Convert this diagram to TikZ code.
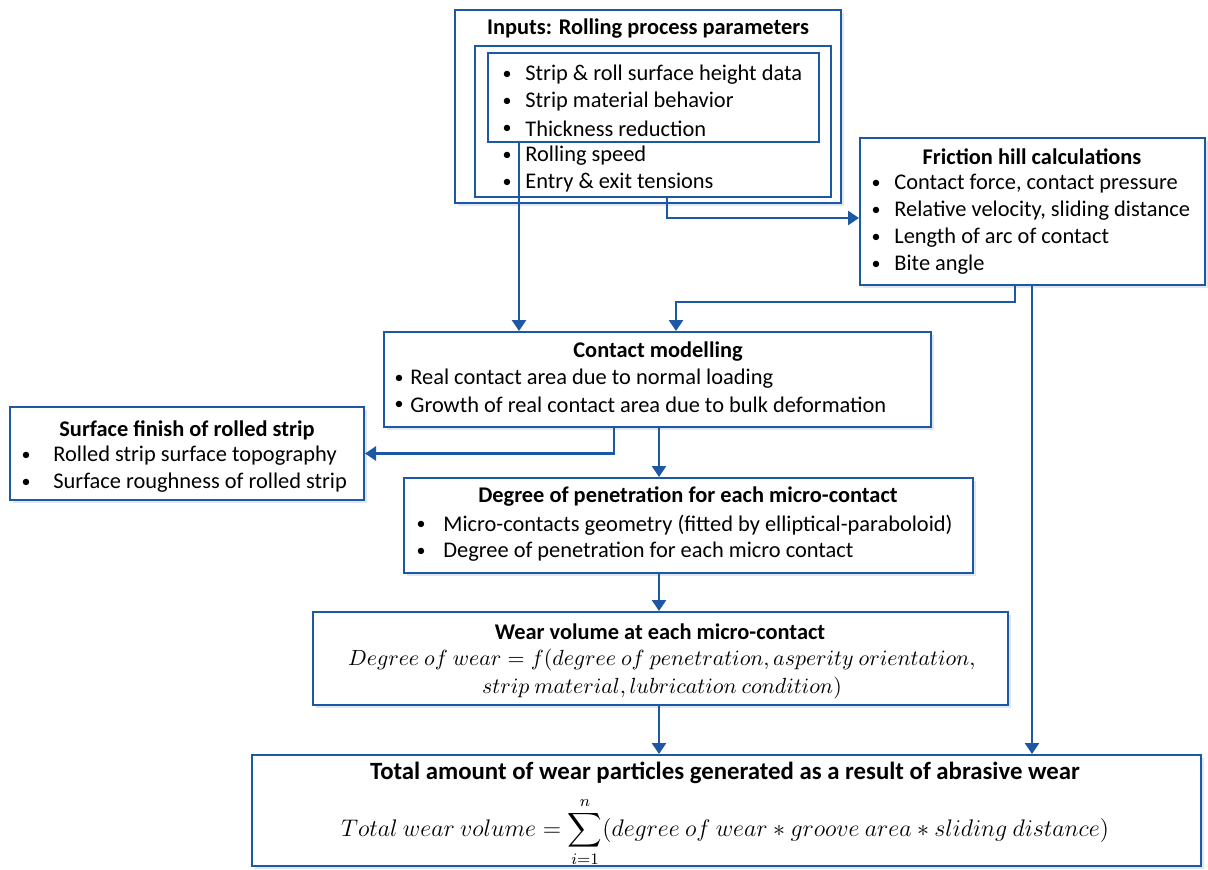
\documentclass[tikz,border=0pt]{standalone}
\usepackage{amsmath}
\usepackage{fontspec}
\setmainfont{Carlito}
\usetikzlibrary{fit,shadows,arrows.meta}

\definecolor{flowblue}{RGB}{28,88,166}

\tikzset{
  frame/.style={draw=flowblue, line width=1pt, inner sep=0pt},
  box/.style={frame, fill=white,
    drop shadow={shadow xshift=1.5pt, shadow yshift=-1.5pt, opacity=0.3, fill=flowblue!50}},
  head/.style={font=\bfseries, inner sep=0pt},
  dot/.style={inner sep=0pt, font=\small},
  item/.style={anchor=west, inner sep=0pt},
  eqn/.style={inner sep=0pt},
  flow/.style={draw=flowblue, line width=1.3pt, -{Triangle[length=5.5pt,width=7pt]}},
}

\begin{document}
\fontsize{11.2}{14}\selectfont
\begin{tikzpicture}[x=0.5pt, y=-0.5pt]
\useasboundingbox (0,0) rectangle (1208,869);

% boxes
\node[box, fit={(455,10) (841,203)}] (inputs) {};
\node[frame, fit={(475,46) (831,197)}] (inmid) {};
\node[frame, fit={(488,53) (819,142)}] (ininner) {};
\node[box, fit={(860,138) (1205,285)}] (fric) {};
\node[box, fit={(384,332) (931,427)}] (contact) {};
\node[box, fit={(10,407) (364,500)}] (surf) {};
\node[box, fit={(404,478) (973,573)}] (degree) {};
\node[box, fit={(313,612) (1008,705)}] (wear) {};
\node[box, fit={(252,755) (1201,866)}] (total) {};

% inputs
\node[head] (inputs-t) at (648,29) {Inputs: Rolling process parameters};
\foreach \t [count=\i] in {Strip \& roll surface height data, Strip material behavior,
    Thickness reduction, Rolling speed, Entry \& exit tensions}{
    \pgfmathsetmacro{\y}{75+27*(\i-1)}
    \node[dot] (inputs-b\i) at (507,\y) {\textbullet};
    \node[item] (inputs-i\i) at (525,\y) {\t};
}

% friction hill
\node[head] (fric-t) at (1032,157) {Friction hill calculations};
\foreach \t [count=\i] in {{Contact force, contact pressure}, {Relative velocity, sliding distance},
    Length of arc of contact, Bite angle}{
    \pgfmathsetmacro{\y}{184+27*(\i-1)}
    \node[dot] (fric-b\i) at (876,\y) {\textbullet};
    \node[item] (fric-i\i) at (894,\y) {\t};
}

% contact modelling
\node[head] (contact-t) at (658,352) {Contact modelling};
\foreach \t [count=\i] in {Real contact area due to normal loading,
    Growth of real contact area due to bulk deformation}{
    \pgfmathsetmacro{\y}{379+26*(\i-1)}
    \node[dot] (contact-b\i) at (399,\y) {\textbullet};
    \node[item] (contact-i\i) at (410,\y) {\t};
}

% surface finish
\node[head] (surf-t) at (187,430) {Surface finish of rolled strip};
\foreach \t [count=\i] in {Rolled strip surface topography, Surface roughness of rolled strip}{
    \pgfmathsetmacro{\y}{456+27*(\i-1)}
    \node[dot] (surf-b\i) at (26,\y) {\textbullet};
    \node[item] (surf-i\i) at (53,\y) {\t};
}

% penetration
\node[head] (degree-t) at (688,497) {Degree of penetration for each micro-contact};
\foreach \t [count=\i] in {Micro-contacts geometry (fitted by elliptical-paraboloid),
    Degree of penetration for each micro contact}{
    \pgfmathsetmacro{\y}{525+27*(\i-1)}
    \node[dot] (degree-b\i) at (421,\y) {\textbullet};
    \node[item] (degree-i\i) at (443,\y) {\t};
}

% wear volume
\node[head] (wear-t) at (660,632) {Wear volume at each micro-contact};
\node[eqn] (wear-e1) at (662,660)
    {$Degree\ of\ wear = f(degree\ of\ penetration, asperity\ orientation,$};
\node[eqn] (wear-e2) at (662,688)
    {$strip\ material, lubrication\ condition)$};

% total
\node[head, font=\fontsize{12.4}{14}\bfseries] (total-t) at (725,773)
    {Total amount of wear particles generated as a result of abrasive wear};
\node[eqn, font=\fontsize{11.8}{14}\selectfont] (total-e) at (725,832)
    {$\displaystyle Total\ wear\ volume = \sum_{i=1}^{n}(degree\ of\ wear \ast groove\ area \ast sliding\ distance)$};

% connectors
\coordinate (k1) at (519,0);
\coordinate (k2) at (667,0);
\coordinate (k3) at (0,218);
\coordinate (k4) at (1015,0);
\coordinate (bend) at (676,302);
\coordinate (k5) at (1032,0);
\coordinate (k6) at (614,0);
\coordinate (spine) at (659,0);

\draw[flow] (ininner.south -| k1) -- (contact.north -| k1);
\draw[flow] (inmid.south -| k2) |- (fric.west |- k3);
\draw[flow] (fric.south -| k4) |- (bend) -- (contact.north -| bend);
\draw[flow] (fric.south -| k5) -- (total.north -| k5);
\draw[flow] (contact.south -| k6) |- (surf.east);
\foreach \u/\v in {contact/degree, degree/wear, wear/total}{
    \draw[flow] (\u.south -| spine) -- (\v.north -| spine);
}
\end{tikzpicture}
\end{document}
